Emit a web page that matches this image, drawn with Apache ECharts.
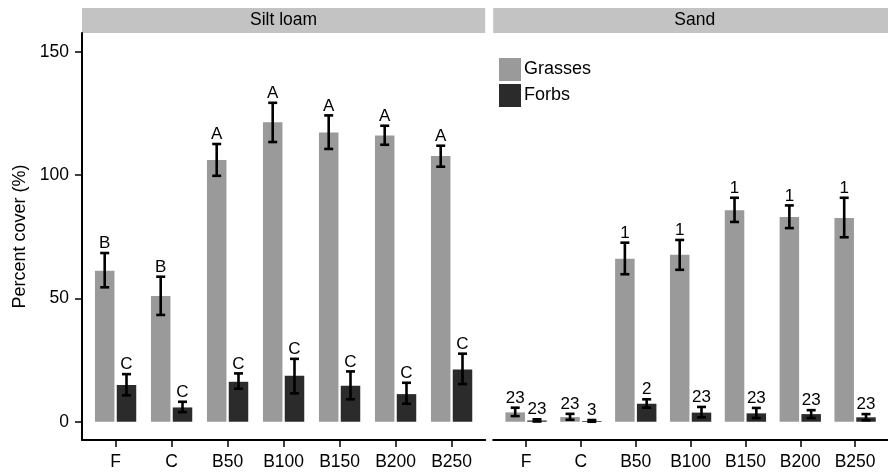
<!DOCTYPE html>
<html><head><meta charset="utf-8">
<script src="https://cdn.jsdelivr.net/npm/echarts@6/dist/echarts.min.js"></script>
<style>html,body{margin:0;padding:0;background:#fff}#c{width:888px;height:473px}</style>
</head><body><div id="c"></div>
<script>
// ---- data ----
const categories = ['F', 'C', 'B50', 'B100', 'B150', 'B200', 'B250'];
const panels = ['Silt loam', 'Sand'];
const yTicks = [0, 50, 100, 150];

const siltGrass    = [61.2, 51.0, 106.1, 121.4, 117.3, 116.0, 107.7];
const siltGrassLo  = [54.5, 43.3, 99.7, 113.4, 110.6, 112.3, 103.4];
const siltGrassHi  = [68.4, 58.8, 112.6, 129.3, 124.2, 120.0, 111.9];
const siltGrassLab = ['B', 'B', 'A', 'A', 'A', 'A', 'A'];

const siltForb     = [14.9, 5.8, 16.2, 18.6, 14.6, 11.2, 21.2];
const siltForbLo   = [10.7, 3.9, 13.4, 11.5, 9.1, 7.3, 15.3];
const siltForbHi   = [19.3, 8.1, 19.6, 25.5, 20.4, 15.8, 27.6];
const siltForbLab  = ['C', 'C', 'C', 'C', 'C', 'C', 'C'];

const sandGrass    = [3.8, 1.9, 66.1, 67.7, 85.7, 83.0, 82.6];
const sandGrassLo  = [2.3, 0.8, 59.8, 61.6, 81.0, 78.5, 74.8];
const sandGrassHi  = [5.7, 3.2, 72.6, 73.7, 90.8, 87.7, 90.8];
const sandGrassLab = ['23', '23', '1', '1', '1', '1', '1'];

const sandForb     = [0.5, 0.3, 7.3, 3.7, 3.4, 3.1, 1.8];
const sandForbLo   = [0.1, 0.0, 5.7, 1.8, 1.5, 1.5, 0.6];
const sandForbHi   = [1.0, 0.7, 9.1, 6.0, 5.6, 4.7, 3.1];
const sandForbLab  = ['23', '3', '2', '23', '23', '23', '23'];

// ---- style ----
const FONT = 'Liberation Sans, Arial, sans-serif';
const GRASS = '#9a9a9a', FORB = '#2b2b2b';
const BAR_W = 19.5, GAP_PX = 2.3;
const DX = (BAR_W + GAP_PX) / 2;
const PANEL_W = 403.2, TOP = 33, H = 407;
const LEFTS = [82, 493.2];

const chart = echarts.init(document.getElementById('c'), null, {renderer: 'canvas'});

function barSeries(name, vals, idx, color) {
  return {
    type: 'bar', name: name, xAxisIndex: idx, yAxisIndex: idx,
    barWidth: BAR_W, barGap: (GAP_PX / BAR_W * 100) + '%',
    itemStyle: {color: color}, silent: true,
    data: vals.map((v, i) => [i, v])
  };
}
function errSeries(lo, hi, labs, idx, offset) {
  return {
    type: 'custom', xAxisIndex: idx, yAxisIndex: idx, silent: true, z: 5,
    data: lo.map((v, i) => [i, v, hi[i]]),
    renderItem: function (params, api) {
      const p1 = api.coord([api.value(0), api.value(1)]);
      const p2 = api.coord([api.value(0), api.value(2)]);
      const x = p1[0] + offset;
      const s = {stroke: '#000', lineWidth: 2.6};
      return {type: 'group', children: [
        {type: 'line', shape: {x1: x, y1: p1[1], x2: x, y2: p2[1]}, style: s},
        {type: 'line', shape: {x1: x - 4.5, y1: p1[1], x2: x + 4.5, y2: p1[1]}, style: s},
        {type: 'line', shape: {x1: x - 4.5, y1: p2[1], x2: x + 4.5, y2: p2[1]}, style: s},
        {type: 'text', style: {x: x, y: p2[1] - 1, text: labs[params.dataIndex],
          fill: '#000', font: '17px ' + FONT, align: 'center', verticalAlign: 'bottom'}}
      ]};
    }
  };
}

const grids = LEFTS.map(l => ({left: l, top: TOP, width: PANEL_W, height: H, containLabel: false}));
const xAxes = LEFTS.map((l, k) => ({
  type: 'value', gridIndex: k, min: -0.6, max: 6.6,
  axisLine: {show: true, onZero: false, lineStyle: {color: '#000', width: 2}},
  axisTick: {show: true, customValues: categories.map((c, i) => i), length: 7, lineStyle: {color: '#000', width: 1.5}},
  axisLabel: {customValues: categories.map((c, i) => i), formatter: v => categories[Math.round(v)],
    color: '#000', fontSize: 17.5, fontFamily: FONT, margin: 13},
  splitLine: {show: false}
}));
const yAxes = LEFTS.map((l, k) => ({
  type: 'value', gridIndex: k, min: -7.4, max: 157.6,
  name: k === 0 ? 'Percent cover (%)' : '', nameLocation: 'middle', nameGap: 53,
  nameTextStyle: {color: '#000', fontSize: 18, fontFamily: FONT},
  axisLine: {show: k === 0, onZero: false, lineStyle: {color: '#000', width: 2}},
  axisTick: {show: k === 0, customValues: yTicks, length: 7, lineStyle: {color: '#000', width: 1.5}},
  axisLabel: {show: k === 0, customValues: yTicks, color: '#000', fontSize: 17.5, fontFamily: FONT, margin: 13},
  splitLine: {show: false}
}));

const graphics = [];
LEFTS.forEach((l, k) => {
  graphics.push({type: 'rect', left: l, top: 8, shape: {width: PANEL_W, height: 25}, style: {fill: '#c3c3c3'}, z: 0});
  graphics.push({type: 'text', x: l + PANEL_W / 2, y: 20.5, style: {text: panels[k], font: '17.5px ' + FONT, fill: '#000', align: 'center', verticalAlign: 'middle'}, z: 1});
});

chart.setOption({
  animation: false,
  backgroundColor: '#fff',
  grid: grids, xAxis: xAxes, yAxis: yAxes,
  legend: {
    data: ['Grasses', 'Forbs'], orient: 'vertical', left: 494, top: 53,
    itemWidth: 22, itemHeight: 23, itemGap: 3, icon: 'rect',
    textStyle: {fontSize: 18, fontFamily: FONT, color: '#000', padding: [0, 0, 0, -2]},
    selectedMode: false
  },
  graphic: graphics,
  series: [
    barSeries('Grasses', siltGrass, 0, GRASS),
    barSeries('Forbs', siltForb, 0, FORB),
    barSeries('Grasses', sandGrass, 1, GRASS),
    barSeries('Forbs', sandForb, 1, FORB),
    errSeries(siltGrassLo, siltGrassHi, siltGrassLab, 0, -DX),
    errSeries(siltForbLo, siltForbHi, siltForbLab, 0, DX),
    errSeries(sandGrassLo, sandGrassHi, sandGrassLab, 1, -DX),
    errSeries(sandForbLo, sandForbHi, sandForbLab, 1, DX)
  ]
});
</script></body></html>
